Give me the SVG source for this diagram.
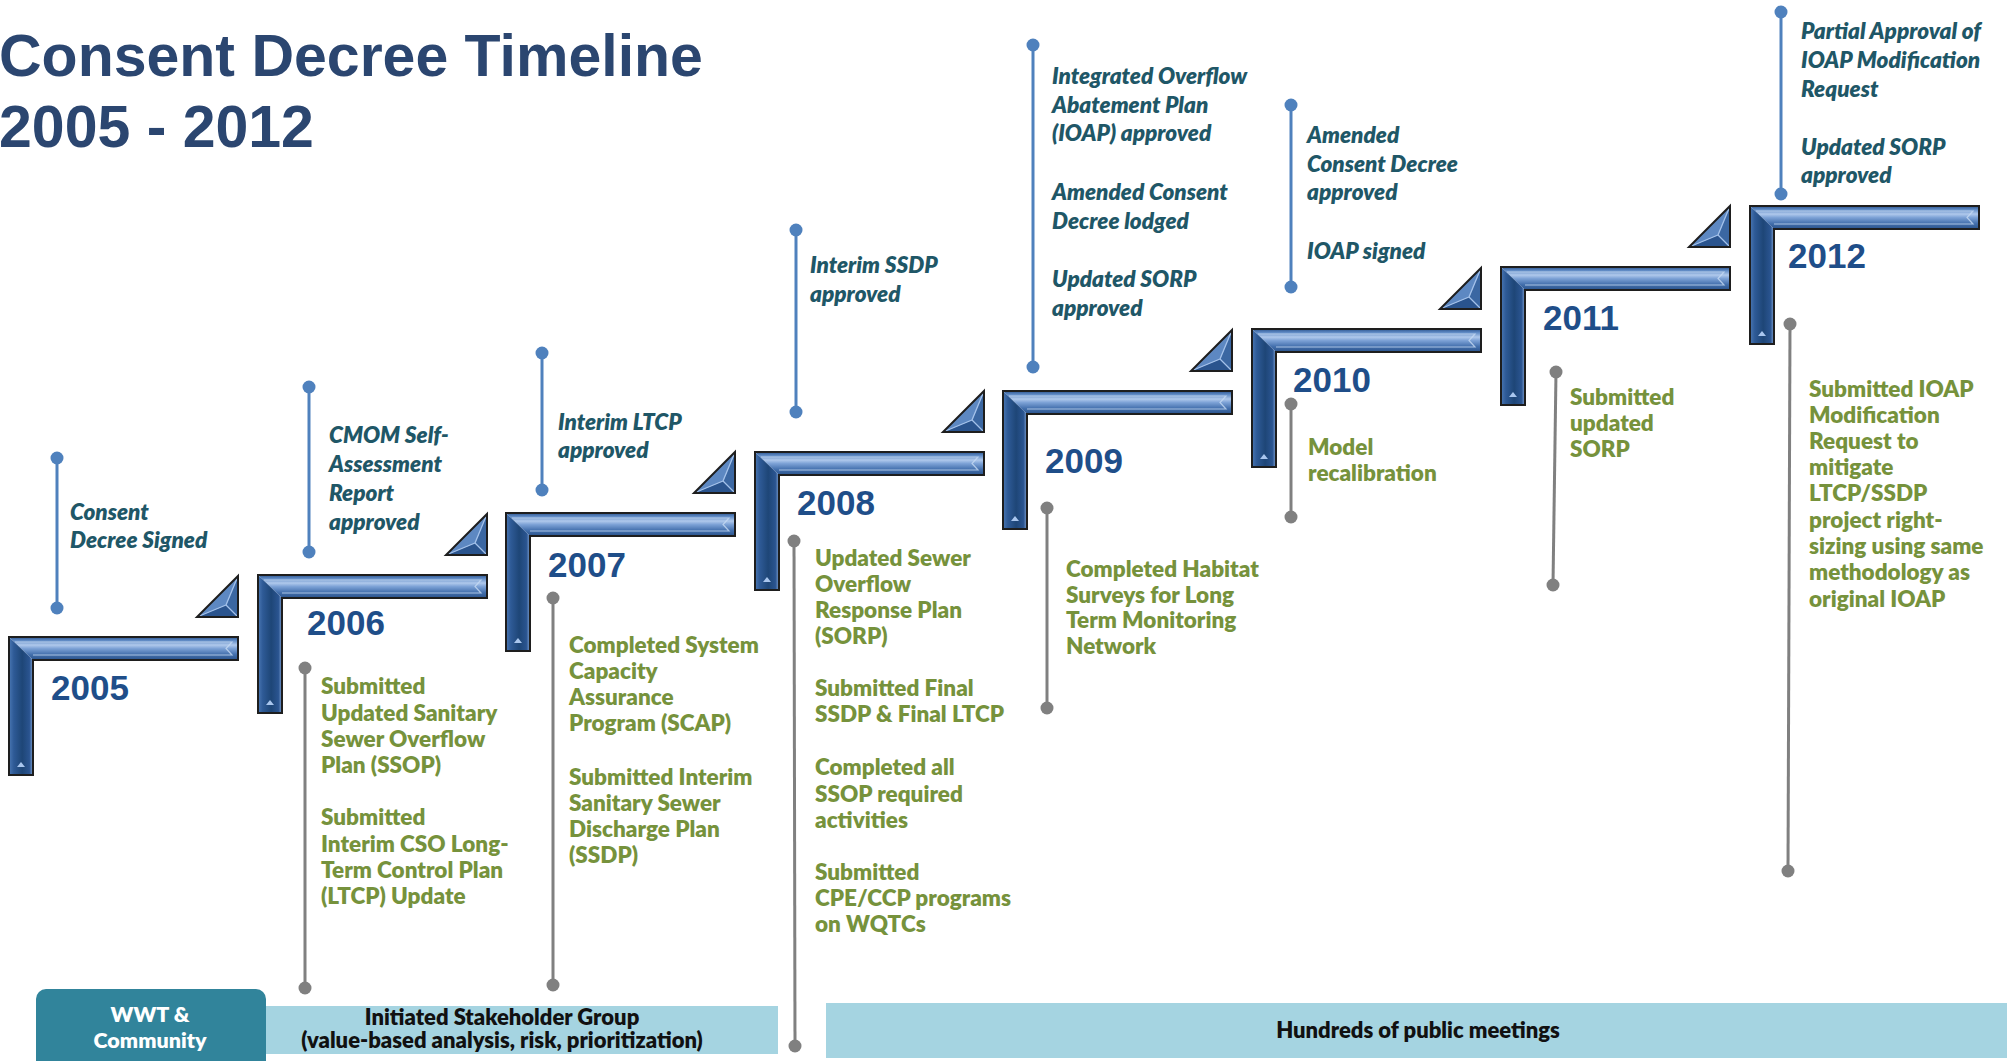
<svg xmlns="http://www.w3.org/2000/svg" xmlns:xlink="http://www.w3.org/1999/xlink" width="2007" height="1061" viewBox="0 0 2007 1061">
<style>
.title{font-family:"Liberation Sans",Arial,sans-serif;font-weight:700;font-size:59px;fill:#2B4670}
.yr{font-family:"Liberation Sans",Arial,sans-serif;font-weight:700;font-size:35px;fill:#1F4E89}
.it{font-family:Lato,"Liberation Sans",sans-serif;font-weight:800;font-style:italic;font-size:22.5px;fill:#1F5767}
.gr{font-family:Lato,"Liberation Sans",sans-serif;font-weight:800;font-size:22.5px;fill:#76923C}
.bar{font-family:Lato,"Liberation Sans",sans-serif;font-weight:800;font-size:22px;fill:#111}
.wwt{font-family:Lato,"Liberation Sans",sans-serif;font-weight:800;font-size:21.5px;fill:#fff}
.bl{stroke:#4F81BD;stroke-width:3;fill:none}
.bd{fill:#4F81BD}
.gl{stroke:#808080;stroke-width:3;fill:none}
.gd{fill:#808080}
</style>
<defs>
<linearGradient id="hG" gradientUnits="userSpaceOnUse" x1="0" y1="0" x2="0" y2="23">
<stop offset="0" stop-color="#2C5590"/><stop offset="0.15" stop-color="#5F8AC4"/><stop offset="0.35" stop-color="#B0C9EC"/><stop offset="0.5" stop-color="#7DA2D6"/><stop offset="0.75" stop-color="#4571AE"/><stop offset="1" stop-color="#2A538C"/>
</linearGradient>
<linearGradient id="vG" gradientUnits="userSpaceOnUse" x1="0" y1="0" x2="24" y2="0">
<stop offset="0" stop-color="#4A77B3"/><stop offset="0.2" stop-color="#2E5A96"/><stop offset="0.55" stop-color="#1E4677"/><stop offset="0.85" stop-color="#2A5490"/><stop offset="1" stop-color="#7C9FD0"/>
</linearGradient>
<g id="Lsh">
<polygon points="0,0 229,0 229,23 24,23" fill="url(#hG)"/>
<polygon points="0,0 24,23 24,138 0,138" fill="url(#vG)"/>
<path d="M6,5 H223 L217,11.5 L223,18 H24" fill="none" stroke="#C6D9F2" stroke-width="1.2" opacity="0.8"/>
<path d="M8,130 L12,125 L16,130 Z" fill="#A9C6EE"/>
<polygon points="0,0 229,0 229,23 24,23 24,138 0,138" fill="none" stroke="#1E1E1E" stroke-width="2"/>
</g>
<g id="Tri">
<polygon points="41,0 0,41 29,29" fill="#5D88C2"/>
<polygon points="41,0 41,41 29,29" fill="#3B67A2"/>
<polygon points="0,41 41,41 29,29" fill="#2A548E"/>
<path d="M41,0 L29,29 M0,41 L29,29 M41,41 L29,29" stroke="#A3C1EA" stroke-width="1.3"/>
<polygon points="41,0 41,41 0,41" fill="none" stroke="#1E1E1E" stroke-width="2"/>
</g>
</defs>
<rect width="2007" height="1061" fill="#fff"/>

<g id="title">
<text class="title" x="-1" y="76">Consent Decree Timeline</text>
<text class="title" x="-1" y="147">2005 - 2012</text>
</g>

<g id="bottom-bars">
<rect x="266" y="1006" width="512" height="48" fill="#A5D4E1"/>
<rect x="826" y="1003" width="1181" height="55" fill="#A5D4E1"/>
<rect x="36" y="989" width="230" height="90" rx="10" fill="#31849B"/>
<text class="wwt" x="150" y="1022" text-anchor="middle">WWT &amp;</text>
<text class="wwt" x="150" y="1048" text-anchor="middle">Community</text>
<text class="bar" x="502" y="1025" text-anchor="middle">Initiated Stakeholder Group</text>
<text class="bar" x="502" y="1048" text-anchor="middle">(value-based analysis, risk, prioritization)</text>
<text class="bar" x="1418" y="1038" text-anchor="middle">Hundreds of public meetings</text>
</g>

<g id="connectors">
<line class="bl" x1="57" y1="458" x2="57" y2="608"/><circle class="bd" cx="57" cy="458" r="6.5"/><circle class="bd" cx="57" cy="608" r="6.5"/>
<line class="bl" x1="309" y1="387" x2="309" y2="552"/><circle class="bd" cx="309" cy="387" r="6.5"/><circle class="bd" cx="309" cy="552" r="6.5"/>
<line class="bl" x1="542" y1="353" x2="542" y2="490"/><circle class="bd" cx="542" cy="353" r="6.5"/><circle class="bd" cx="542" cy="490" r="6.5"/>
<line class="bl" x1="796" y1="230" x2="796" y2="412"/><circle class="bd" cx="796" cy="230" r="6.5"/><circle class="bd" cx="796" cy="412" r="6.5"/>
<line class="bl" x1="1033" y1="45" x2="1033" y2="367"/><circle class="bd" cx="1033" cy="45" r="6.5"/><circle class="bd" cx="1033" cy="367" r="6.5"/>
<line class="bl" x1="1291" y1="105" x2="1291" y2="287"/><circle class="bd" cx="1291" cy="105" r="6.5"/><circle class="bd" cx="1291" cy="287" r="6.5"/>
<line class="bl" x1="1781" y1="12" x2="1781" y2="194"/><circle class="bd" cx="1781" cy="12" r="6.5"/><circle class="bd" cx="1781" cy="194" r="6.5"/>

<line class="gl" x1="305" y1="668" x2="305" y2="988"/><circle class="gd" cx="305" cy="668" r="6.5"/><circle class="gd" cx="305" cy="988" r="6.5"/>
<line class="gl" x1="553" y1="598" x2="553" y2="985"/><circle class="gd" cx="553" cy="598" r="6.5"/><circle class="gd" cx="553" cy="985" r="6.5"/>
<line class="gl" x1="794" y1="541" x2="795" y2="1046"/><circle class="gd" cx="794" cy="541" r="6.5"/><circle class="gd" cx="795" cy="1046" r="6.5"/>
<line class="gl" x1="1047" y1="508" x2="1047" y2="708"/><circle class="gd" cx="1047" cy="508" r="6.5"/><circle class="gd" cx="1047" cy="708" r="6.5"/>
<line class="gl" x1="1291" y1="404" x2="1291" y2="517"/><circle class="gd" cx="1291" cy="404" r="6.5"/><circle class="gd" cx="1291" cy="517" r="6.5"/>
<line class="gl" x1="1556" y1="372" x2="1553" y2="585"/><circle class="gd" cx="1556" cy="372" r="6.5"/><circle class="gd" cx="1553" cy="585" r="6.5"/>
<line class="gl" x1="1790" y1="324" x2="1788" y2="871"/><circle class="gd" cx="1790" cy="324" r="6.5"/><circle class="gd" cx="1788" cy="871" r="6.5"/>
</g>

<g id="year-2005">
<use href="#Lsh" x="9" y="637"/><use href="#Tri" x="197" y="576"/>
<text class="yr" x="51" y="700">2005</text>
<text class="it"><tspan x="70" y="520">Consent</tspan><tspan x="70" y="548">Decree Signed</tspan></text>
</g>

<g id="year-2006">
<use href="#Lsh" x="258" y="575"/><use href="#Tri" x="446" y="514"/>
<text class="yr" x="307" y="635">2006</text>
<text class="it"><tspan x="329" y="443">CMOM Self-</tspan><tspan x="329" y="472">Assessment</tspan><tspan x="329" y="501">Report</tspan><tspan x="329" y="530">approved</tspan></text>
<text class="gr"><tspan x="321" y="694">Submitted</tspan><tspan x="321" y="721">Updated Sanitary</tspan><tspan x="321" y="747">Sewer Overflow</tspan><tspan x="321" y="773">Plan (SSOP)</tspan><tspan x="321" y="825">Submitted</tspan><tspan x="321" y="852">Interim CSO Long-</tspan><tspan x="321" y="878">Term Control Plan</tspan><tspan x="321" y="904">(LTCP) Update</tspan></text>
</g>

<g id="year-2007">
<use href="#Lsh" x="506" y="513"/><use href="#Tri" x="694" y="452"/>
<text class="yr" x="548" y="577">2007</text>
<text class="it"><tspan x="558" y="430">Interim LTCP</tspan><tspan x="558" y="458">approved</tspan></text>
<text class="gr"><tspan x="569" y="653">Completed System</tspan><tspan x="569" y="679">Capacity</tspan><tspan x="569" y="705">Assurance</tspan><tspan x="569" y="731">Program (SCAP)</tspan><tspan x="569" y="785">Submitted Interim</tspan><tspan x="569" y="811">Sanitary Sewer</tspan><tspan x="569" y="837">Discharge Plan</tspan><tspan x="569" y="863">(SSDP)</tspan></text>
</g>

<g id="year-2008">
<use href="#Lsh" x="755" y="452"/><use href="#Tri" x="943" y="391"/>
<text class="yr" x="797" y="515">2008</text>
<text class="it"><tspan x="810" y="273">Interim SSDP</tspan><tspan x="810" y="302">approved</tspan></text>
<text class="gr"><tspan x="815" y="566">Updated Sewer</tspan><tspan x="815" y="592">Overflow</tspan><tspan x="815" y="618">Response Plan</tspan><tspan x="815" y="644">(SORP)</tspan><tspan x="815" y="696">Submitted Final</tspan><tspan x="815" y="722">SSDP &amp; Final LTCP</tspan><tspan x="815" y="775">Completed all</tspan><tspan x="815" y="802">SSOP required</tspan><tspan x="815" y="828">activities</tspan><tspan x="815" y="880">Submitted</tspan><tspan x="815" y="906">CPE/CCP programs</tspan><tspan x="815" y="932">on WQTCs</tspan></text>
</g>

<g id="year-2009">
<use href="#Lsh" x="1003" y="391"/><use href="#Tri" x="1191" y="330"/>
<text class="yr" x="1045" y="473">2009</text>
<text class="it"><tspan x="1052" y="84">Integrated Overflow</tspan><tspan x="1052" y="113">Abatement Plan</tspan><tspan x="1052" y="141">(IOAP) approved</tspan><tspan x="1052" y="200">Amended Consent</tspan><tspan x="1052" y="229">Decree lodged</tspan><tspan x="1052" y="287">Updated SORP</tspan><tspan x="1052" y="316">approved</tspan></text>
<text class="gr"><tspan x="1066" y="577">Completed Habitat</tspan><tspan x="1066" y="603">Surveys for Long</tspan><tspan x="1066" y="628">Term Monitoring</tspan><tspan x="1066" y="654">Network</tspan></text>
</g>

<g id="year-2010">
<use href="#Lsh" x="1252" y="329"/><use href="#Tri" x="1440" y="268"/>
<text class="yr" x="1293" y="392">2010</text>
<text class="it"><tspan x="1307" y="143">Amended</tspan><tspan x="1307" y="172">Consent Decree</tspan><tspan x="1307" y="200">approved</tspan><tspan x="1307" y="259">IOAP signed</tspan></text>
<text class="gr"><tspan x="1308" y="455">Model</tspan><tspan x="1308" y="481">recalibration</tspan></text>
</g>

<g id="year-2011">
<use href="#Lsh" x="1501" y="267"/><use href="#Tri" x="1689" y="206"/>
<text class="yr" x="1543" y="330">2011</text>
<text class="gr"><tspan x="1570" y="405">Submitted</tspan><tspan x="1570" y="431">updated</tspan><tspan x="1570" y="457">SORP</tspan></text>
</g>

<g id="year-2012">
<use href="#Lsh" x="1750" y="206"/>
<text class="yr" x="1788" y="268">2012</text>
<text class="it"><tspan x="1801" y="39">Partial Approval of</tspan><tspan x="1801" y="68">IOAP Modification</tspan><tspan x="1801" y="97">Request</tspan><tspan x="1801" y="155">Updated SORP</tspan><tspan x="1801" y="183">approved</tspan></text>
<text class="gr"><tspan x="1809" y="397">Submitted IOAP</tspan><tspan x="1809" y="423">Modification</tspan><tspan x="1809" y="449">Request to</tspan><tspan x="1809" y="475">mitigate</tspan><tspan x="1809" y="501">LTCP/SSDP</tspan><tspan x="1809" y="528">project right-</tspan><tspan x="1809" y="554">sizing using same</tspan><tspan x="1809" y="580">methodology as</tspan><tspan x="1809" y="607">original IOAP</tspan></text>
</g>
</svg>
